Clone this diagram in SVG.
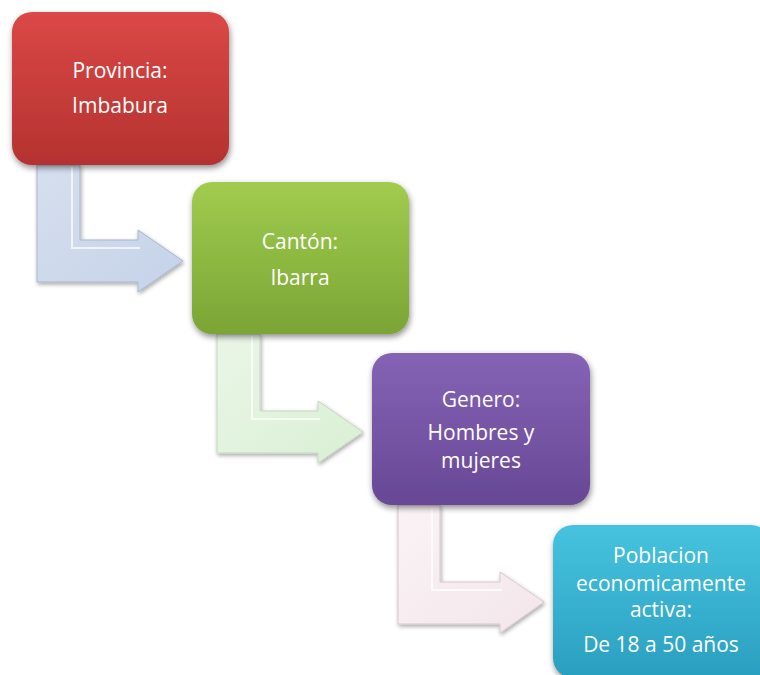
<svg xmlns="http://www.w3.org/2000/svg" width="760" height="675" viewBox="0 0 760 675">
  <defs>
    <linearGradient id="gRed" x1="0" y1="0" x2="0" y2="1">
      <stop offset="0" stop-color="#DA4846"/>
      <stop offset="1" stop-color="#B53230"/>
    </linearGradient>
    <linearGradient id="gGreen" x1="0" y1="0" x2="0" y2="1">
      <stop offset="0" stop-color="#A1CC4E"/>
      <stop offset="1" stop-color="#7AA535"/>
    </linearGradient>
    <linearGradient id="gPurple" x1="0" y1="0" x2="0" y2="1">
      <stop offset="0" stop-color="#8563B5"/>
      <stop offset="1" stop-color="#674895"/>
    </linearGradient>
    <linearGradient id="gTeal" x1="0" y1="0" x2="0" y2="1">
      <stop offset="0" stop-color="#46C3DF"/>
      <stop offset="1" stop-color="#2A9FC0"/>
    </linearGradient>
    <linearGradient id="gA1" x1="0" y1="0" x2="1" y2="1">
      <stop offset="0" stop-color="#D6DFEF"/>
      <stop offset="1" stop-color="#C5D2E8"/>
    </linearGradient>
    <linearGradient id="gA2" x1="0" y1="0" x2="1" y2="1">
      <stop offset="0" stop-color="#EAF6E7"/>
      <stop offset="1" stop-color="#D9EFD4"/>
    </linearGradient>
    <linearGradient id="gA3" x1="0" y1="0" x2="1" y2="1">
      <stop offset="0" stop-color="#FAF3F5"/>
      <stop offset="1" stop-color="#F3E6EB"/>
    </linearGradient>
    <filter id="shadow" x="-10%" y="-10%" width="125%" height="130%">
      <feGaussianBlur in="SourceAlpha" stdDeviation="3"/>
      <feOffset dx="1" dy="3" result="b"/>
      <feComponentTransfer><feFuncA type="linear" slope="0.45"/></feComponentTransfer>
      <feMerge><feMergeNode/><feMergeNode in="SourceGraphic"/></feMerge>
    </filter>
    <filter id="ashadow" x="-10%" y="-10%" width="125%" height="130%">
      <feGaussianBlur in="SourceAlpha" stdDeviation="2"/>
      <feOffset dx="1" dy="2" result="b"/>
      <feComponentTransfer><feFuncA type="linear" slope="0.35"/></feComponentTransfer>
      <feMerge><feMergeNode/><feMergeNode in="SourceGraphic"/></feMerge>
    </filter>
  </defs>
  <style>
    .box { filter: url(#shadow); }
    .arrow { filter: url(#ashadow); stroke-width: 1; }
    .bevel { fill: none; stroke: #FFFFFF; stroke-opacity: 0.7; stroke-width: 2; }
    .lbl { font-family: "Open Sans", "Liberation Sans", sans-serif; font-size: 21px; fill: #FFFFFF; text-anchor: middle; }
  </style>

  <g id="connectors">
    <path class="arrow" fill="url(#gA1)" stroke="#A9B6CC" d="M37,165 L80,165 L80,240 L138,240 L138,230 L183,261 L138,292 L138,282 L37,282 Z"/>
    <path class="bevel" d="M72,167 L72,248 L140,248"/>
    <path class="arrow" fill="url(#gA2)" stroke="#C3D9BE" d="M217,334 L260,334 L260,411 L318,411 L318,401 L363,432 L318,463 L318,453 L217,453 Z"/>
    <path class="bevel" d="M252,336 L252,419 L320,419"/>
    <path class="arrow" fill="url(#gA3)" stroke="#D9C8CE" d="M398,505 L440,505 L440,582 L500,582 L500,572 L544,602 L500,633 L500,624 L398,624 Z"/>
    <path class="bevel" d="M432,507 L432,590 L502,590"/>
  </g>

  <g id="node-provincia">
    <rect class="box" x="12" y="12" width="217" height="153" rx="20" fill="url(#gRed)"/>
    <text class="lbl" x="120" y="78">Provincia:</text>
    <text class="lbl" x="120" y="113">Imbabura</text>
  </g>

  <g id="node-canton">
    <rect class="box" x="192" y="182" width="217" height="152" rx="20" fill="url(#gGreen)"/>
    <text class="lbl" x="300" y="249">Cantón:</text>
    <text class="lbl" x="300" y="285">Ibarra</text>
  </g>

  <g id="node-genero">
    <rect class="box" x="372" y="353" width="218" height="152" rx="20" fill="url(#gPurple)"/>
    <text class="lbl" x="481" y="407">Genero:</text>
    <text class="lbl" x="481" y="440">Hombres y</text>
    <text class="lbl" x="481" y="468">mujeres</text>
  </g>

  <g id="node-poblacion">
    <rect class="box" x="553" y="525" width="218" height="153" rx="20" fill="url(#gTeal)"/>
    <text class="lbl" x="661" y="563">Poblacion</text>
    <text class="lbl" x="661" y="591">economicamente</text>
    <text class="lbl" x="661" y="617">activa:</text>
    <text class="lbl" x="661" y="652">De 18 a 50 años</text>
  </g>
</svg>
